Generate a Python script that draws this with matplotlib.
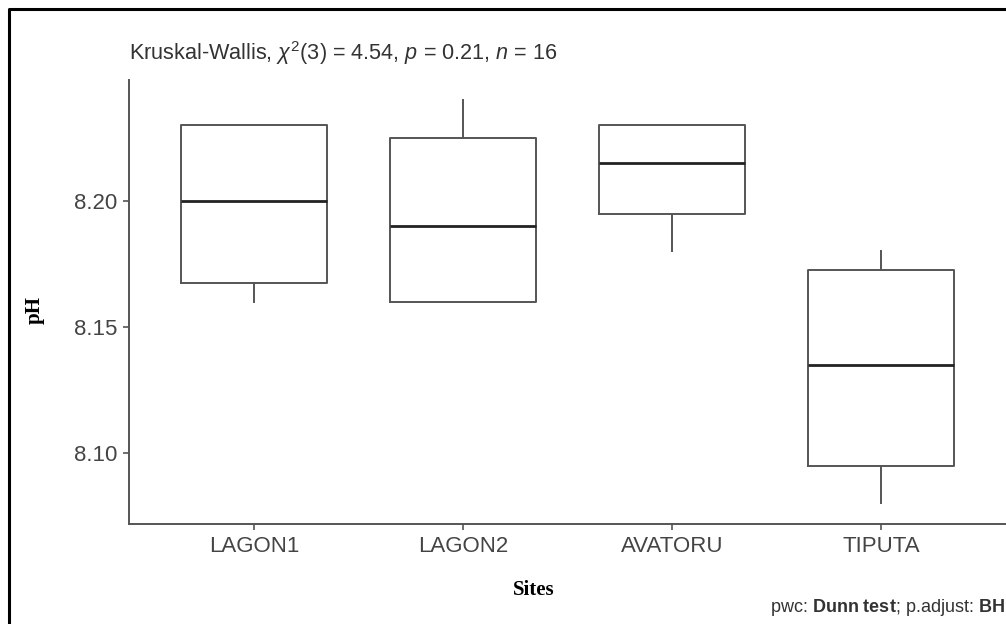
import matplotlib
matplotlib.use("Agg")
import matplotlib.pyplot as plt
from matplotlib.lines import Line2D

plt.rcParams['font.family'] = ['Liberation Sans', 'DejaVu Sans']
plt.rcParams['mathtext.fontset'] = 'custom'
plt.rcParams['mathtext.rm'] = 'Liberation Sans'
plt.rcParams['mathtext.it'] = 'Liberation Sans:italic'
plt.rcParams['mathtext.bf'] = 'Liberation Sans:bold'

# pH values per site (4 samples each, read back from the box quartiles)
sites = ['LAGON1', 'LAGON2', 'AVATORU', 'TIPUTA']
lagon1 = [8.16, 8.17, 8.23, 8.23]
lagon2 = [8.16, 8.16, 8.22, 8.24]
avatoru = [8.18, 8.20, 8.23, 8.23]
tiputa = [8.08, 8.10, 8.17, 8.18]
y_ticks = [8.10, 8.15, 8.20]

W, H = 1006, 624
fig = plt.figure(figsize=(W / 100, H / 100), dpi=100)

# axes placed in pixel terms
left, right, top, bottom = 128.6, 1006.4, 80, 523.6
ax = fig.add_axes([left / W, 1 - bottom / H, (right - left) / W, (bottom - top) / H])

line_col = '#555555'
ax.boxplot([lagon1, lagon2, avatoru, tiputa], positions=range(4), widths=0.7,
           showcaps=False, showfliers=False, patch_artist=False,
           boxprops=dict(color=line_col, linewidth=1.4),
           whiskerprops=dict(color=line_col, linewidth=1.4),
           medianprops=dict(color='#222222', linewidth=2.0))

ax.set_xlim(-0.6, 3.6)
ax.set_ylim(8.072, 8.248)
ax.set_xticks(range(4))
ax.set_xticklabels(sites)
ax.set_yticks(y_ticks)
ax.set_yticklabels([f'{v:.2f}' for v in y_ticks])

for s in ['top', 'right']:
    ax.spines[s].set_visible(False)
for s in ['left', 'bottom']:
    ax.spines[s].set_color(line_col)
    ax.spines[s].set_linewidth(1.4)

ax.tick_params(axis='both', colors=line_col, length=4, width=1.2,
               labelsize=16, labelcolor='#444444')
ax.tick_params(axis='x', pad=5)
ax.tick_params(axis='y', pad=4)

# axis titles (serif bold), placed in figure pixels
fig.text(534 / W, 1 - 590 / H, 'Sites', family='Liberation Serif', weight='bold',
         fontsize=15, ha='center', va='center')
fig.text(35 / W, 1 - 310 / H, 'pH', family='Liberation Serif', weight='bold',
         fontsize=15, rotation=90, ha='center', va='center')

# subtitle and caption
fig.text(129 / W, 1 - 53 / H,
         r'Kruskal-Wallis, $\chi^2$(3) = 4.54, $p$ = 0.21, $n$ = 16',
         fontsize=15.6, color='#333333', ha='left', va='center')
fig.text(1005 / W, 1 - 608 / H,
         r'pwc: $\mathbf{Dunn\ test}$; p.adjust: $\mathbf{BH}$',
         fontsize=13, color='#333333', ha='right', va='center')

# black frame around the image (cropped on right and bottom)
fig.add_artist(Line2D([9 / W, 9 / W, 1.0], [0.0, 1 - 9 / H, 1 - 9 / H],
                      transform=fig.transFigure, color='black', linewidth=2.2))

fig.savefig('out.png', dpi=100)
